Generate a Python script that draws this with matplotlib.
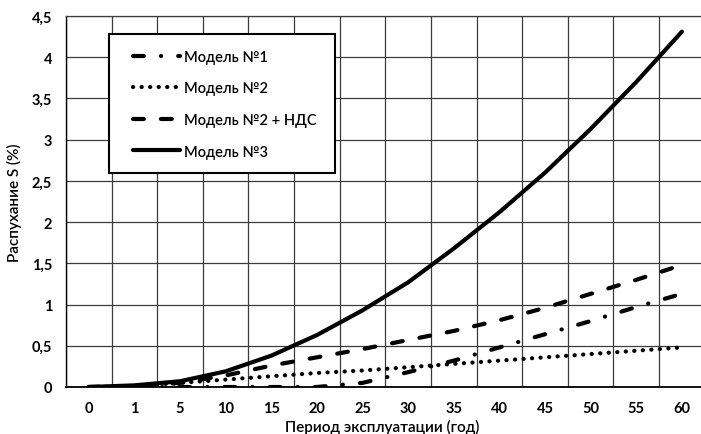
import matplotlib.pyplot as plt
from matplotlib.patches import Rectangle

# periodos (categorias del eje x)
periodos = ['0', '1', '5', '10', '15', '20', '25', '30', '35', '40', '45', '50', '55', '60']

# valores
modelo1 = [0, 0, 0, 0, 0, 0, 0.05, 0.18, 0.32, 0.48, 0.64, 0.80, 0.97, 1.13]
modelo2 = [0, 0.01, 0.05, 0.09, 0.13, 0.17, 0.20, 0.24, 0.28, 0.32, 0.36, 0.40, 0.44, 0.48]
modelo2nds = [0, 0.01, 0.05, 0.14, 0.26, 0.36, 0.46, 0.57, 0.68, 0.81, 0.96, 1.13, 1.30, 1.48]
modelo3 = [0, 0.02, 0.07, 0.19, 0.38, 0.63, 0.93, 1.27, 1.68, 2.12, 2.60, 3.13, 3.70, 4.31]

etiquetas = ['Модель №1', 'Модель №2', 'Модель №2 + НДС', 'Модель №3']
ticksY = [0, 0.5, 1, 1.5, 2, 2.5, 3, 3.5, 4, 4.5]

plt.rcParams['font.family'] = ['Lato', 'DejaVu Sans']

W, H = 701, 435
fig = plt.figure(figsize=(W / 100, H / 100), dpi=100)
ax = fig.add_axes([66 / W, 47 / H, (704.7 - 66) / W, 371 / H])

x = list(range(len(periodos)))
ax.plot(x, modelo1, color='black', lw=3, dashes=(2.6, 4.1, 0.05, 4.1),
        dash_capstyle='round', label=etiquetas[0])
ax.plot(x, modelo2, color='black', lw=3, dashes=(0.05, 2.0),
        dash_capstyle='round', label=etiquetas[1])
ax.plot(x, modelo2nds, color='black', lw=3, dashes=(2.6, 4.1),
        dash_capstyle='round', label=etiquetas[2])
ax.plot(x, modelo3, color='black', lw=3, solid_capstyle='round', label=etiquetas[3])

ax.set_xlim(-0.5, len(periodos) - 0.5)
ax.set_ylim(0, 4.5)

# rejilla entre categorias
ax.set_xticks(x)
ax.set_xticklabels(periodos)
ax.set_xticks([i - 0.5 for i in range(len(periodos) + 1)], minor=True)
ax.set_yticks(ticksY)
ax.set_yticklabels([('%g' % v).replace('.', ',') for v in ticksY])
ax.grid(True, which='minor', axis='x', color='#3c3c3c', lw=0.9)
ax.grid(True, which='major', axis='y', color='#3c3c3c', lw=0.9)
ax.tick_params(which='both', length=0)
ax.tick_params(axis='both', pad=10, labelsize=10.5)
for t in ax.get_xticklabels() + ax.get_yticklabels():
    t.set_fontweight('bold')

ax.spines['right'].set_visible(False)
ax.spines['top'].set_color('#3c3c3c')
ax.spines['top'].set_linewidth(0.9)
ax.spines['left'].set_linewidth(1.0)
ax.spines['bottom'].set_linewidth(1.3)

ax.set_ylabel('Распухание S (%)', fontsize=11, fontweight='semibold')
ax.yaxis.set_label_coords((22 - 66) / 638.7, 0.5)
ax.set_xlabel('Период эксплуатации (год)', fontsize=11, fontweight='semibold')
ax.xaxis.set_label_coords((382 - 66) / 638.7, (388 - 420) / 371)

# caja de la leyenda
def ejeX(px):
    return (px - 66) / 638.7

def ejeY(py):
    return (388 - py) / 371

caja = Rectangle((ejeX(109), ejeY(174)), ejeX(335) - ejeX(109), ejeY(35) - ejeY(174),
                 transform=ax.transAxes, facecolor='white', edgecolor='black', lw=1.5, zorder=4)
ax.add_patch(caja)
leyenda = ax.legend(loc='upper left', bbox_to_anchor=(ejeX(133), ejeY(51)), frameon=False,
                    borderaxespad=0, borderpad=0, handlelength=3.2,
                    handletextpad=0.3, labelspacing=1.2,
                    prop={'size': 10.5, 'weight': 'semibold'})
leyenda.set_zorder(5)

plt.savefig('out.png', dpi=100)
